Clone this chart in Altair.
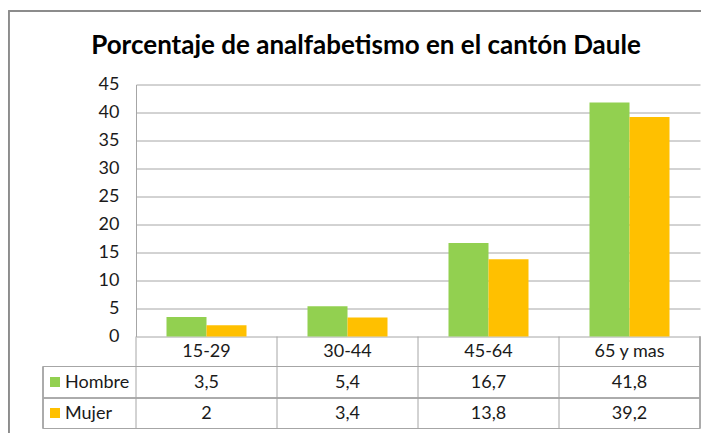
import altair as alt
import pandas as pd

categories = ["15-29", "30-44", "45-64", "65 y mas"]
series = ["Hombre", "Mujer"]
hombre = [3.5, 5.4, 16.7, 41.8]
mujer = [2, 3.4, 13.8, 39.2]
colors = ["#92D050", "#FFC000"]
title_text = "Porcentaje de analfabetismo en el cantón Daule"
y_ticks = [0, 5, 10, 15, 20, 25, 30, 35, 40, 45]

rows = []
for s, vals in zip(series, [hombre, mujer]):
    for c, v in zip(categories, vals):
        rows.append({"cat": c, "serie": s, "valor": v,
                     "label": ("%g" % v).replace(".", ",")})
df = pd.DataFrame(rows)
cats_df = pd.DataFrame({"cat": categories})

FONT = "Lato"
LINE = "#a6a6a6"
TXT = "#1a1a1a"
W, H = 564, 252
FS = 18

xenc = alt.X("cat:N", sort=categories,
             scale=alt.Scale(paddingInner=0, paddingOuter=0), axis=None)

bars = alt.Chart(df).mark_bar().encode(
    x=xenc,
    xOffset=alt.XOffset("serie:N", sort=series,
                        scale=alt.Scale(paddingInner=0, paddingOuter=0.7625)),
    y=alt.Y("valor:Q", scale=alt.Scale(domain=[0, 45], nice=False),
            axis=alt.Axis(values=y_ticks, grid=True, gridColor=LINE, gridWidth=1,
                          domain=True, domainColor=LINE, domainWidth=1, ticks=False,
                          labelPadding=17, labelFontSize=FS, labelFont=FONT,
                          labelColor=TXT, title=None)),
    color=alt.Color("serie:N", sort=series,
                    scale=alt.Scale(domain=series, range=colors), legend=None),
)

base_cats = alt.Chart(cats_df)
header = base_cats.mark_text(font=FONT, fontSize=FS, color=TXT, baseline="middle").encode(
    x=xenc, y=alt.value(267), text="cat:N")

vlines = base_cats.mark_rule(color=LINE, strokeWidth=1).encode(
    x=alt.X("cat:N", sort=categories, bandPosition=0,
            scale=alt.Scale(paddingInner=0, paddingOuter=0), axis=None),
    y=alt.value(H), y2=alt.value(344))
vlast = base_cats.mark_rule(color=LINE, strokeWidth=1).encode(
    x=alt.value(W), y=alt.value(H), y2=alt.value(344))
vleft = base_cats.mark_rule(color=LINE, strokeWidth=1).encode(
    x=alt.value(-93), y=alt.value(282), y2=alt.value(344))

hl = []
for yy in [282, 313.5, 344]:
    hl.append(base_cats.mark_rule(color=LINE, strokeWidth=1).encode(
        x=alt.value(-93), x2=alt.value(W), y=alt.value(yy)))

row_y = {"Hombre": 298, "Mujer": 329}
vals_layers = []
for s, col in zip(series, colors):
    d = df[df["serie"] == s]
    vals_layers.append(alt.Chart(d).mark_text(font=FONT, fontSize=FS, color=TXT,
                                              baseline="middle").encode(
        x=xenc, y=alt.value(row_y[s]), text="label:N"))
    sd = pd.DataFrame({"serie": [s]})
    vals_layers.append(alt.Chart(sd).mark_square(size=100, color=col, opacity=1).encode(
        x=alt.value(-81), y=alt.value(row_y[s] - 0.5)))
    vals_layers.append(alt.Chart(sd).mark_text(font=FONT, fontSize=FS, color=TXT,
                                               align="left", baseline="middle").encode(
        x=alt.value(-71), y=alt.value(row_y[s]), text="serie:N"))

title = alt.Chart(pd.DataFrame({"t": [title_text]})).mark_text(
    font=FONT, fontSize=26, fontWeight="bold", color="#000",
    align="center", baseline="middle").encode(
    x=alt.value(230), y=alt.value(-39), text="t:N")

frame_top = base_cats.mark_rule(color="#8c8c8c", strokeWidth=2).encode(
    x=alt.value(-127.5), x2=alt.value(W + 10), y=alt.value(-73.5))
frame_left = base_cats.mark_rule(color="#8c8c8c", strokeWidth=2).encode(
    x=alt.value(-127.5), y=alt.value(-73.5), y2=alt.value(H + 120))

chart = alt.layer(frame_top, frame_left, *hl, vlines, vlast, vleft, bars, header,
                  *vals_layers, title).properties(
    width=W, height=H,
    autosize=alt.AutoSizeParams(type="none"),
    padding={"left": 128, "top": 76.5, "right": 1, "bottom": 96},
    background="white",
).configure_view(stroke=None)

chart.save("out.html", embed_options={"renderer": "svg", "actions": False})
